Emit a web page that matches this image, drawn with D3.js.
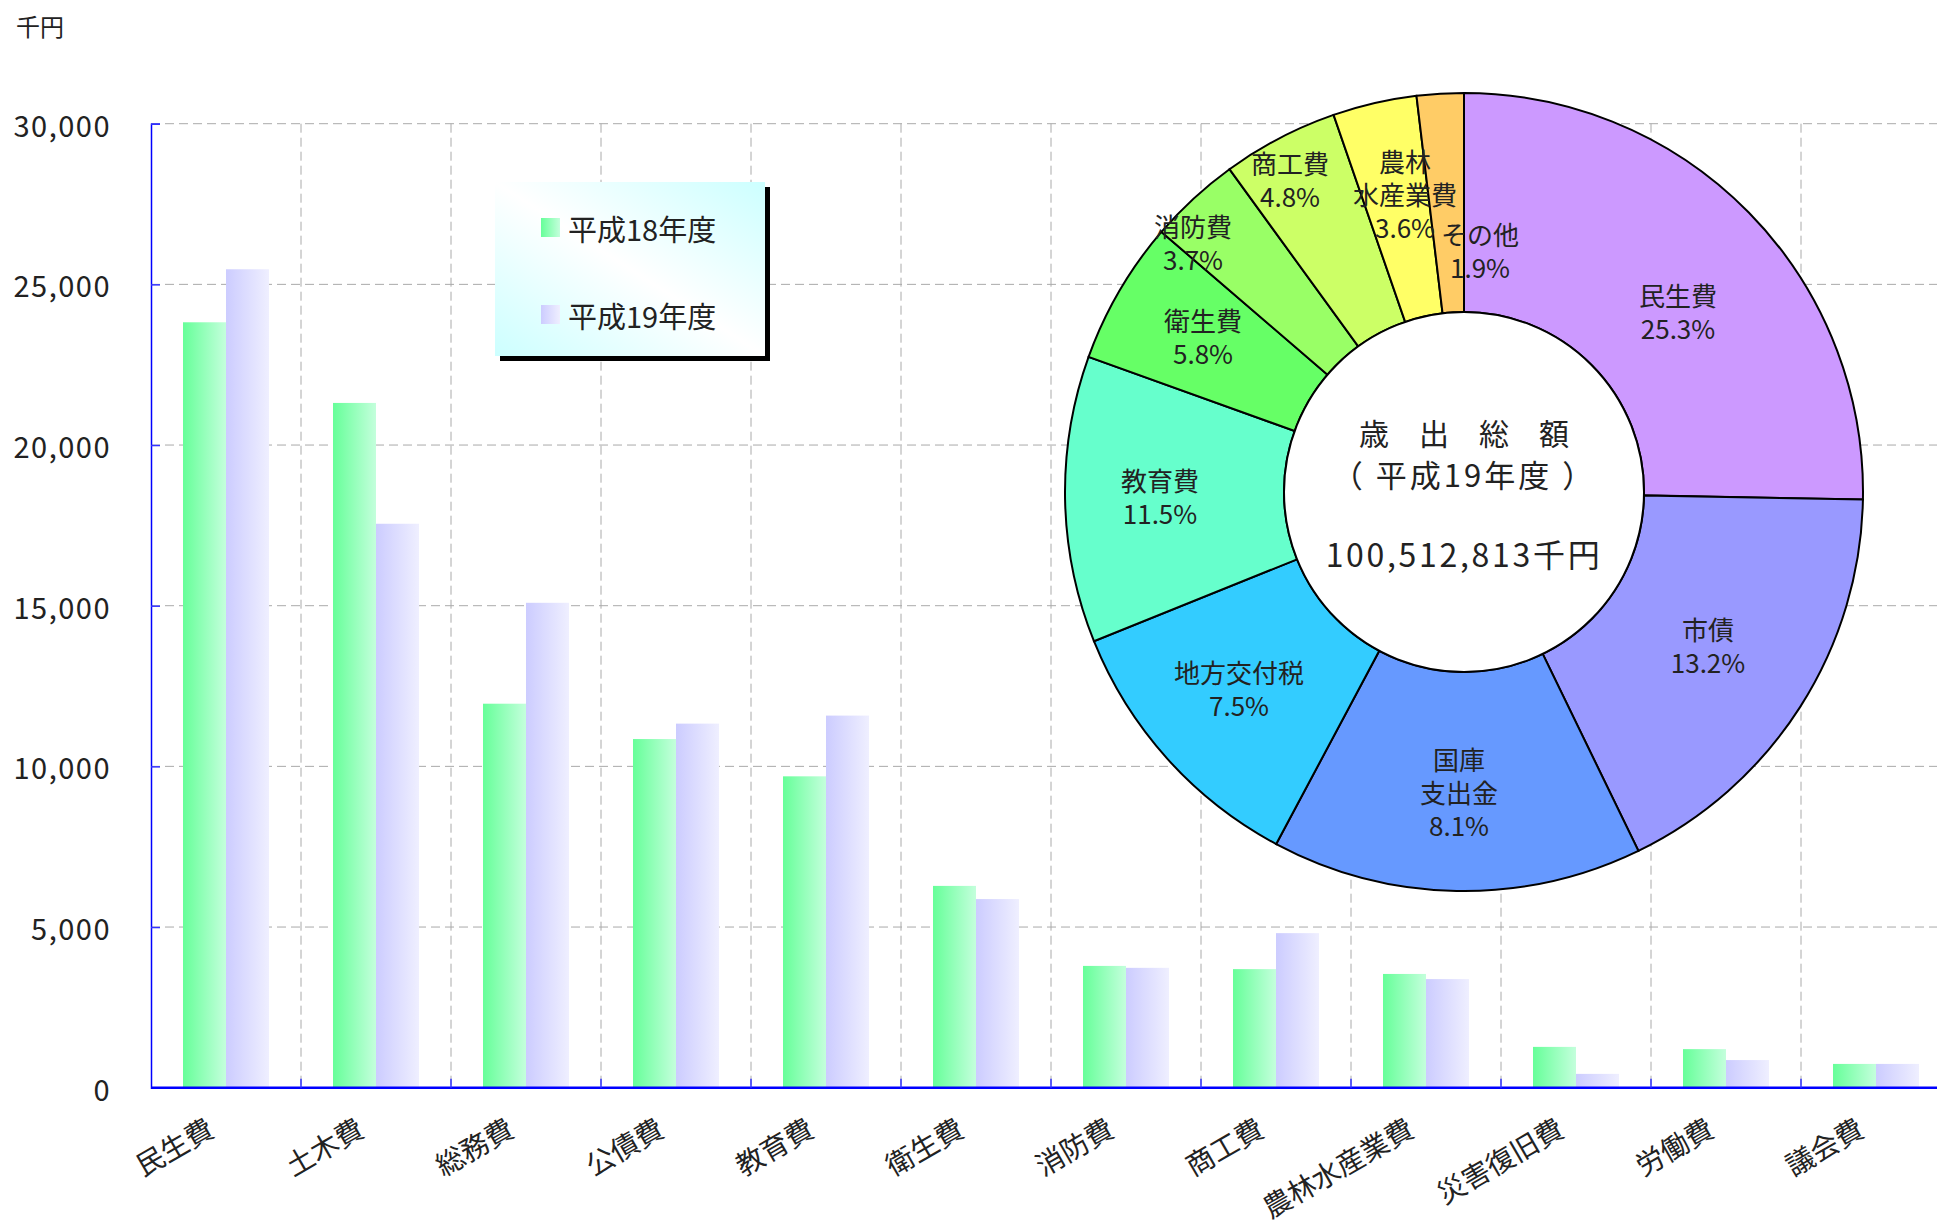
<!DOCTYPE html>
<html>
<head>
<meta charset="utf-8">
<script src="https://cdn.jsdelivr.net/npm/d3@7"></script>
<style>
  body { margin: 0; background: #fff; }
  svg text { font-family: "Noto Sans CJK JP", sans-serif; fill: #222; }
</style>
</head>
<body>
<div id="chart"></div>
<script>
// bar chart data (千円)
const categories = ["民生費", "土木費", "総務費", "公債費", "教育費", "衛生費", "消防費", "商工費", "農林水産業費", "災害復旧費", "労働費", "議会費"];
const seriesNames = ["平成18年度", "平成19年度"];
const h18Values = [23820, 21310, 11950, 10850, 9690, 6280, 3790, 3690, 3540, 1270, 1200, 740];
const h19Values = [25470, 17550, 15090, 11330, 11580, 5870, 3730, 4810, 3380, 430, 860, 740];
const yTicks = [0, 5000, 10000, 15000, 20000, 25000, 30000];

// doughnut data (share of circle)
const pieNames = ["民生費", "市債", "国庫支出金", "地方交付税", "教育費", "衛生費", "消防費", "商工費", "農林水産業費", "その他"];
const pieShares = [25.3, 17.5, 15.0, 11.1, 11.6, 5.8, 3.7, 4.7, 3.4, 1.9];
const pieLabels = [["民生費", "25.3%"], ["市債", "13.2%"], ["国庫", "支出金", "8.1%"], ["地方交付税", "7.5%"],
                   ["教育費", "11.5%"], ["衛生費", "5.8%"], ["消防費", "3.7%"], ["商工費", "4.8%"],
                   ["農林", "水産業費", "3.6%"], ["その他", "1.9%"]];
const centerLines = ["歳　出　総　額", "（ 平成19年度 ）", "100,512,813千円"];

const pieColors = ["#cc99ff", "#9999ff", "#6699ff", "#33ccff", "#66ffcc", "#66ff66", "#99ff66", "#ccff66", "#ffff66", "#ffcc66"];
// label offsets from the doughnut centre (first line)
const labelOffsets = [[214, -198], [244, 136], [-5, 266], [-225, 179], [-304, -13], [-261, -173], [-271, -267], [-174, -330], [-59, -332], [16, -259]];

const width = 1937, height = 1221;
const margins = { top: 124, left: 151, bottom: 1088 };

const svg = d3.select("#chart").append("svg")
    .attr("width", width)
    .attr("height", height)
    .attr("viewBox", [0, 0, width, height]);

const defs = svg.append("defs");
function hGrad(id, c1, c2) {
    const g = defs.append("linearGradient").attr("id", id)
        .attr("x1", 0).attr("y1", 0).attr("x2", 1).attr("y2", 0);
    g.append("stop").attr("offset", "0%").attr("stop-color", c1);
    g.append("stop").attr("offset", "100%").attr("stop-color", c2);
}
hGrad("g18", "#66ff99", "#c4ffdc");
hGrad("g19", "#ccccff", "#efefff");
const lg = defs.append("linearGradient").attr("id", "legendBg")
    .attr("x1", 0).attr("y1", 1).attr("x2", 1).attr("y2", 0);
lg.append("stop").attr("offset", "0%").attr("stop-color", "#ccffff");
lg.append("stop").attr("offset", "50%").attr("stop-color", "#ffffff");
lg.append("stop").attr("offset", "100%").attr("stop-color", "#ccffff");

// scales
const x = d3.scaleBand().domain(categories).range([margins.left, margins.left + 12 * 150]);
const x1 = d3.scaleBand().domain(seriesNames).range([32, 118]);
const y = d3.scaleLinear().domain([0, 30000]).range([1087.7, 123.7]);

// grid
const grid = svg.append("g").attr("stroke", "#aaaaaa").attr("stroke-dasharray", "9,5").attr("stroke-width", 1);
grid.selectAll("line.h").data(yTicks.filter(d => d > 0)).join("line")
    .attr("x1", margins.left).attr("x2", width)
    .attr("y1", d => y(d)).attr("y2", d => y(d));
grid.selectAll("line.v").data(categories.slice(1)).join("line")
    .attr("x1", d => x(d)).attr("x2", d => x(d))
    .attr("y1", y(30000)).attr("y2", y(0));

// bars
const rows = categories.map((c, i) => ({ key: c, values: [h18Values[i], h19Values[i]] }));
svg.append("g").selectAll("g").data(rows).join("g")
    .attr("transform", d => `translate(${x(d.key)},0)`)
    .selectAll("rect")
    .data(d => d.values.map((v, j) => ({ s: seriesNames[j], v, j })))
    .join("rect")
    .attr("x", d => x1(d.s))
    .attr("width", x1.bandwidth())
    .attr("y", d => y(d.v))
    .attr("height", d => y(0) - y(d.v))
    .attr("fill", d => d.j === 0 ? "url(#g18)" : "url(#g19)");

// y axis
const yAxis = svg.append("g").attr("transform", `translate(${margins.left},0)`)
    .call(d3.axisRight(y).tickValues(yTicks).tickSize(9).tickFormat(""));
yAxis.select(".domain").attr("stroke", "#0000ff").attr("stroke-width", 1.5);
yAxis.selectAll(".tick line").attr("stroke", "#3333ff").attr("stroke-width", 1.5);
svg.append("g").selectAll("text").data(yTicks).join("text")
    .attr("x", 111).attr("y", d => y(d))
    .attr("text-anchor", "end").attr("dominant-baseline", "central")
    .attr("font-size", 29).attr("letter-spacing", 1.5)
    .text(d => d3.format(",")(d));

// x axis
svg.append("line").attr("x1", margins.left).attr("x2", width)
    .attr("y1", y(0)).attr("y2", y(0))
    .attr("stroke", "#0000ff").attr("stroke-width", 2.5);
svg.append("g").selectAll("line").data(categories.slice(1)).join("line")
    .attr("x1", d => x(d)).attr("x2", d => x(d))
    .attr("y1", y(0)).attr("y2", y(0) - 9)
    .attr("stroke", "#3333ff").attr("stroke-width", 1.5);
svg.append("g").selectAll("text").data(categories).join("text")
    .attr("transform", d => `translate(${x(d) + x.bandwidth() / 2 - 10},1135) rotate(-30)`)
    .attr("text-anchor", "end")
    .attr("font-size", 28)
    .text(d => d);

// unit
svg.append("text").attr("x", 16).attr("y", 25).attr("dominant-baseline", "central")
    .attr("font-size", 24).text("千円");

// legend
const legend = svg.append("g").attr("transform", "translate(495,182)");
legend.append("rect").attr("x", 5).attr("y", 5).attr("width", 270).attr("height", 174).attr("fill", "#000");
legend.append("rect").attr("width", 270).attr("height", 174).attr("fill", "url(#legendBg)");
seriesNames.forEach((s, i) => {
    legend.append("rect").attr("x", 46).attr("y", 36 + i * 87).attr("width", 19).attr("height", 19)
        .attr("fill", i === 0 ? "url(#g18)" : "url(#g19)");
    legend.append("text").attr("x", 73).attr("y", 46 + i * 87).attr("dominant-baseline", "central")
        .attr("font-size", 29).text(s);
});

// doughnut
const cx = 1464, cy = 492, rOuter = 399, rInner = 180;
const pie = d3.pie().sort(null).value(d => d);
const arc = d3.arc().innerRadius(rInner).outerRadius(rOuter);
const donut = svg.append("g").attr("transform", `translate(${cx},${cy})`);
donut.selectAll("path").data(pie(pieShares)).join("path")
    .attr("d", arc)
    .attr("fill", (d, i) => pieColors[i])
    .attr("stroke", "#000").attr("stroke-width", 2);
donut.append("circle").attr("r", rInner).attr("fill", "#fff").attr("stroke", "#000").attr("stroke-width", 2);

pieLabels.forEach((lines, i) => {
    const t = donut.append("text")
        .attr("transform", `translate(${labelOffsets[i][0]},${labelOffsets[i][1]})`)
        .attr("text-anchor", "middle").attr("font-size", 26);
    lines.forEach((ln, k) => {
        t.append("tspan").attr("x", 0).attr("y", k * 33).attr("dominant-baseline", "central").text(ln);
    });
});

donut.append("text").attr("y", -60).attr("text-anchor", "middle").attr("dominant-baseline", "central")
    .attr("font-size", 30).text(centerLines[0]);
donut.append("text").attr("y", -19).attr("text-anchor", "middle").attr("dominant-baseline", "central")
    .attr("font-size", 31).attr("letter-spacing", 3).text(centerLines[1]);
donut.append("text").attr("y", 61).attr("text-anchor", "middle").attr("dominant-baseline", "central")
    .attr("font-size", 32).attr("letter-spacing", 2.7).text(centerLines[2]);
</script>
</body>
</html>
